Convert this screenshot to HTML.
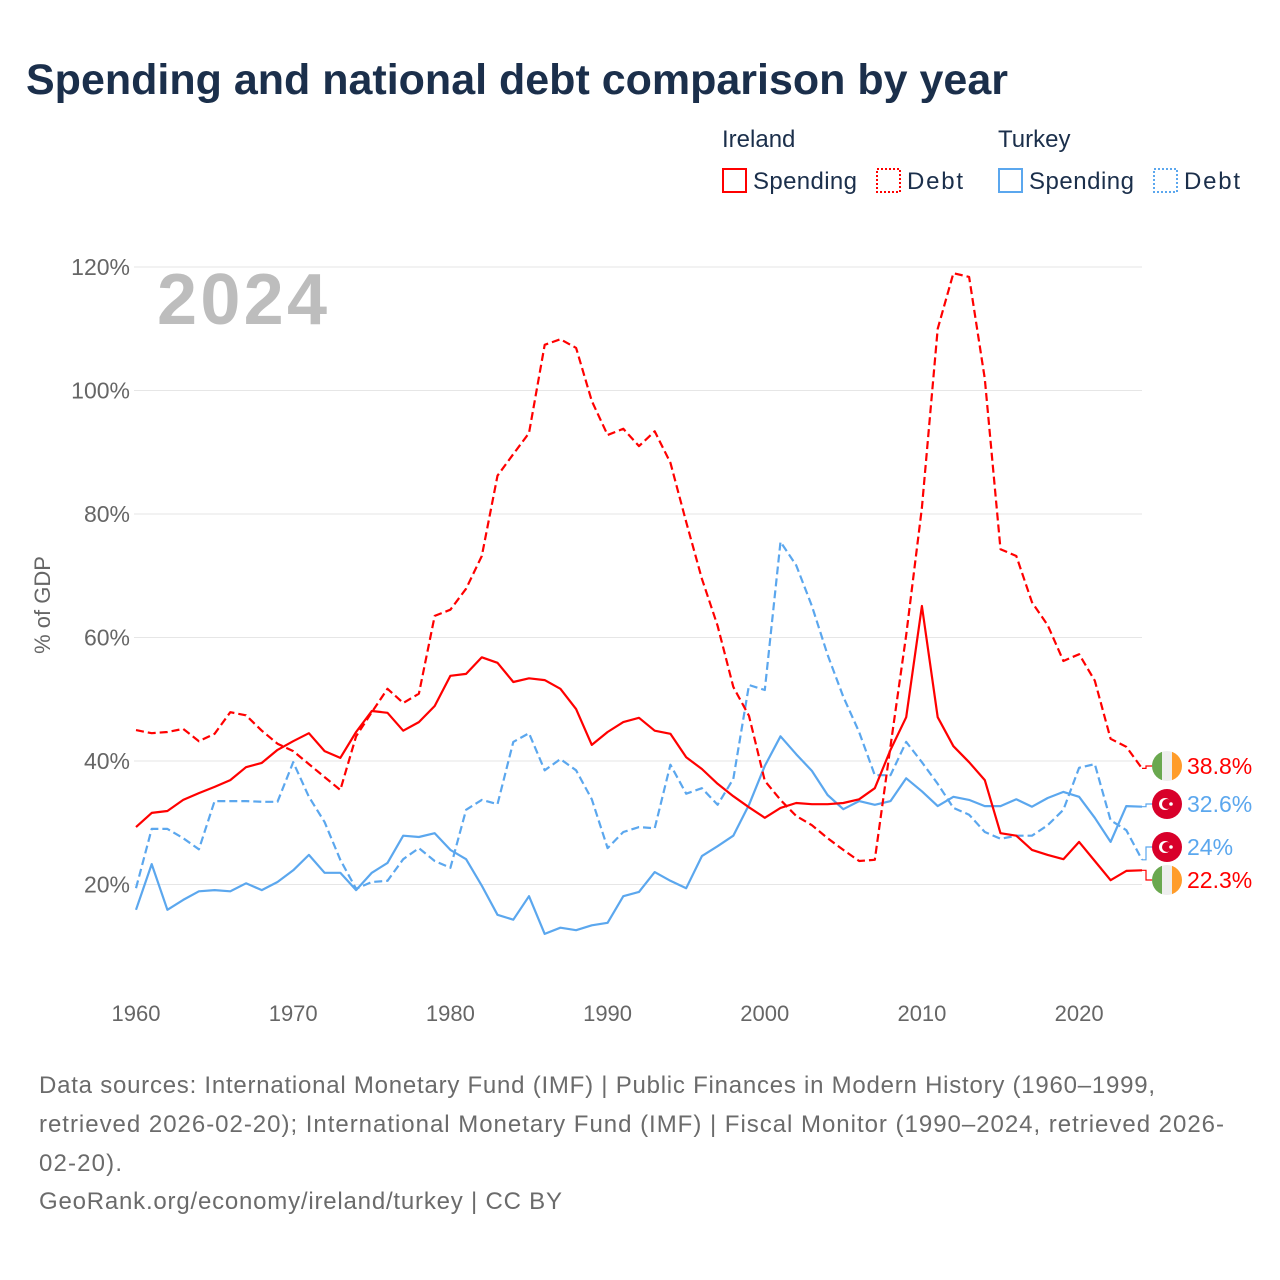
<!DOCTYPE html>
<html><head><meta charset="utf-8">
<style>
body{margin:0;background:#fff;}
#wrap{position:relative;width:1280px;height:1280px;overflow:hidden;font-family:"Liberation Sans",sans-serif;}
svg text{font-family:"Liberation Sans",sans-serif;}
</style></head>
<body>
<div id="wrap">
<svg id="chart" width="1280" height="1280" xmlns="http://www.w3.org/2000/svg">
  <text x="26" y="94" font-size="43" font-weight="bold" fill="#1b2f4b">Spending and national debt comparison by year</text>
  <g>
    <text x="722" y="147" font-size="24" fill="#1b2f4b">Ireland</text>
    <text x="998" y="147" font-size="24" fill="#1b2f4b">Turkey</text>
    <g><rect x="723" y="169" width="23" height="23" fill="none" stroke="#ff0000" stroke-width="2"/><text x="753" y="189" font-size="24" fill="#1b2f4b" textLength="104">Spending</text></g>
    <g><rect x="877" y="169" width="23" height="23" fill="none" stroke="#ff0000" stroke-width="2" stroke-dasharray="2,2"/><text x="907" y="189" font-size="24" fill="#1b2f4b" textLength="56">Debt</text></g>
    <g><rect x="999" y="169" width="23" height="23" fill="none" stroke="#5ba7ee" stroke-width="2"/><text x="1029" y="189" font-size="24" fill="#1b2f4b" textLength="105">Spending</text></g>
    <g><rect x="1154" y="169" width="23" height="23" fill="none" stroke="#5ba7ee" stroke-width="2" stroke-dasharray="2,2"/><text x="1184" y="189" font-size="24" fill="#1b2f4b" textLength="56">Debt</text></g>
  </g>
  <g id="grid"></g>
  <g id="yticks"></g>
  <g id="xticks"></g>
  <text x="157" y="324" font-size="72" font-weight="bold" fill="#bdbdbd" textLength="170">2024</text>
  <text transform="translate(50,605) rotate(-90)" text-anchor="middle" font-size="22" fill="#666">% of GDP</text>
  <g id="series"></g>
  <g id="endlabels"></g>
  <g font-size="24" fill="#6b6b6b">
    <text x="39" y="1093" textLength="1116">Data sources: International Monetary Fund (IMF) | Public Finances in Modern History (1960–1999,</text>
    <text x="39" y="1132" textLength="1185">retrieved 2026-02-20); International Monetary Fund (IMF) | Fiscal Monitor (1990–2024, retrieved 2026-</text>
    <text x="39" y="1171" textLength="83">02-20).</text>
    <text x="39" y="1209" textLength="523">GeoRank.org/economy/ireland/turkey | CC BY</text>
  </g>
</svg>
</div>
<script>
const years = [];
for (let y = 1960; y <= 2024; y++) years.push(y);
const yTicks = [20, 40, 60, 80, 100, 120];
const xTicks = [1960, 1970, 1980, 1990, 2000, 2010, 2020];
const irelandSpending = [29.3,31.6,31.9,33.7,34.8,35.8,36.9,39.0,39.7,41.8,43.2,44.5,41.6,40.5,44.7,48.1,47.8,44.9,46.3,48.9,53.8,54.1,56.8,55.9,52.8,53.4,53.1,51.7,48.4,42.6,44.7,46.3,47.0,44.9,44.4,40.6,38.7,36.3,34.3,32.5,30.8,32.4,33.2,33.0,33.0,33.2,33.8,35.6,41.8,47.1,65.1,47.1,42.4,39.8,36.9,28.3,27.9,25.6,24.8,24.1,26.9,23.8,20.7,22.2,22.3];
const irelandDebt = [45.0,44.5,44.7,45.2,43.2,44.4,47.9,47.4,44.9,42.8,41.6,39.5,37.4,35.3,44.0,47.9,51.7,49.4,50.9,63.5,64.5,67.9,73.2,86.2,89.7,93.1,107.4,108.3,106.9,98.3,92.8,93.8,91.0,93.4,88.3,78.7,69.5,61.9,52.0,47.3,36.8,33.7,31.1,29.6,27.5,25.6,23.8,24.0,42.4,60.4,81.0,110.0,119.0,118.4,101.9,74.3,73.2,65.7,62.0,56.2,57.3,53.0,43.6,42.3,38.8];
const turkeySpending = [15.9,23.3,15.9,17.5,18.9,19.1,18.9,20.2,19.1,20.4,22.3,24.8,21.9,21.9,19.1,21.9,23.5,27.9,27.7,28.3,25.6,24.1,19.8,15.1,14.3,18.1,12.0,13.0,12.6,13.4,13.8,18.1,18.8,22.0,20.6,19.4,24.6,26.2,27.9,32.9,39.2,44.0,41.1,38.4,34.5,32.2,33.5,32.9,33.5,37.2,35.1,32.7,34.2,33.7,32.7,32.7,33.8,32.6,34.0,35.0,34.2,30.8,26.9,32.7,32.6];
const turkeyDebt = [19.4,29.0,29.0,27.5,25.7,33.5,33.5,33.5,33.4,33.4,39.8,34.2,30.1,24.0,19.3,20.4,20.6,24.1,25.9,23.8,22.7,32.1,33.7,33.0,43.1,44.5,38.5,40.3,38.5,33.8,25.9,28.5,29.3,29.1,39.4,34.7,35.6,32.9,37.1,52.3,51.5,75.5,71.7,65.1,57.2,50.4,44.7,37.7,37.7,43.1,39.8,36.3,32.4,31.3,28.5,27.4,27.9,27.9,29.6,32.1,38.9,39.5,30.4,28.8,24.0];
const endLabels = ["38.8%", "32.6%", "24%", "22.3%"];

const NS = "http://www.w3.org/2000/svg";
const X0 = 136, X1 = 1142, Y0 = 1008, PXPER = 6.175;
function xScale(yr){ return X0 + (yr - 1960) * (X1 - X0) / (2024 - 1960); }
function yScale(v){ return Y0 - v * PXPER; }
function mk(tag, attrs, parent){ const e = document.createElementNS(NS, tag); for (const k in attrs) e.setAttribute(k, attrs[k]); parent.appendChild(e); return e; }

const grid = document.getElementById('grid'), yt = document.getElementById('yticks'), xt = document.getElementById('xticks');
yTicks.forEach(v => {
  const l = mk('line', {x1: 134, x2: X1, y1: yScale(v), y2: yScale(v), stroke: '#e6e6e6', 'stroke-width': 1}, grid);
  
  
  const t = mk('text', {x: 130, y: yScale(v) + 8, 'text-anchor': 'end', 'font-size': 23, fill: '#666'}, yt);
  t.textContent = v + '%';
  
  
});
xTicks.forEach(v => {
  const t = mk('text', {x: xScale(v), y: 1021, 'text-anchor': 'middle', 'font-size': 22, fill: '#666'}, xt);
  t.textContent = v;
  
  
});

const series = document.getElementById('series');
function drawLine(vals, color, dash, name){
  const pts = vals.map((v, i) => xScale(years[i]).toFixed(1) + ',' + yScale(v).toFixed(1)).join(' ');
  const p = mk('polyline', {points: pts, fill: 'none', stroke: color, 'stroke-width': 2.2, 'stroke-linejoin': 'round'}, series);
  if (dash) p.setAttribute('stroke-dasharray', '8,4');
  
  
}
drawLine(turkeyDebt, '#5ba7ee', true, 'line-turkey-debt');
drawLine(turkeySpending, '#5ba7ee', false, 'line-turkey-spending');
drawLine(irelandDebt, '#ff0000', true, 'line-ireland-debt');
drawLine(irelandSpending, '#ff0000', false, 'line-ireland-spending');

const el = document.getElementById('endlabels');
const last = years.length - 1;
const ends = [
  {v: irelandDebt[last], c: '#ff0000', ly: 766, flag: 'ie', lab: endLabels[0], n: 'ireland-debt'},
  {v: turkeySpending[last], c: '#5ba7ee', ly: 804, flag: 'tr', lab: endLabels[1], n: 'turkey-spending'},
  {v: turkeyDebt[last], c: '#5ba7ee', ly: 847, flag: 'tr', lab: endLabels[2], n: 'turkey-debt'},
  {v: irelandSpending[last], c: '#ff0000', ly: 880, flag: 'ie', lab: endLabels[3], n: 'ireland-spending'}
];
ends.forEach(e => {
  const y0 = yScale(e.v);
  const c = mk('polyline', {points: `${X1},${y0} ${X1+4},${y0} ${X1+4},${e.ly} ${X1+10},${e.ly}`, fill: 'none', stroke: e.c, 'stroke-width': 1.2}, el);
  
  
  const g = mk('g', {}, el);
  
  
  const cx = 1167, r = 15;
  if (e.flag === 'ie') {
    mk('defs', {}, g).innerHTML = `<clipPath id="cp-${e.n}"><circle cx="${cx}" cy="${e.ly}" r="${r}"/></clipPath>`;
    const gg = mk('g', {'clip-path': `url(#cp-${e.n})`}, g);
    mk('rect', {x: cx - r, y: e.ly - r, width: 10, height: 30, fill: '#6aa84f'}, gg);
    mk('rect', {x: cx - 5, y: e.ly - r, width: 10, height: 30, fill: '#eeeeee'}, gg);
    mk('rect', {x: cx + 5, y: e.ly - r, width: 10, height: 30, fill: '#ff9c2a'}, gg);
  } else {
    mk('circle', {cx: cx, cy: e.ly, r: r, fill: '#d8002a'}, g);
    mk('circle', {cx: cx - 2, cy: e.ly, r: 6, fill: '#fff'}, g);
    mk('circle', {cx: cx, cy: e.ly, r: 5, fill: '#d8002a'}, g);
    mk('circle', {cx: cx + 4, cy: e.ly, r: 1.8, fill: '#fff'}, g);
  }
  const t = mk('text', {x: 1187, y: e.ly + 8, 'font-size': 23, fill: e.c}, el);
  t.textContent = e.lab;
  
  
});
</script>
</body></html>
